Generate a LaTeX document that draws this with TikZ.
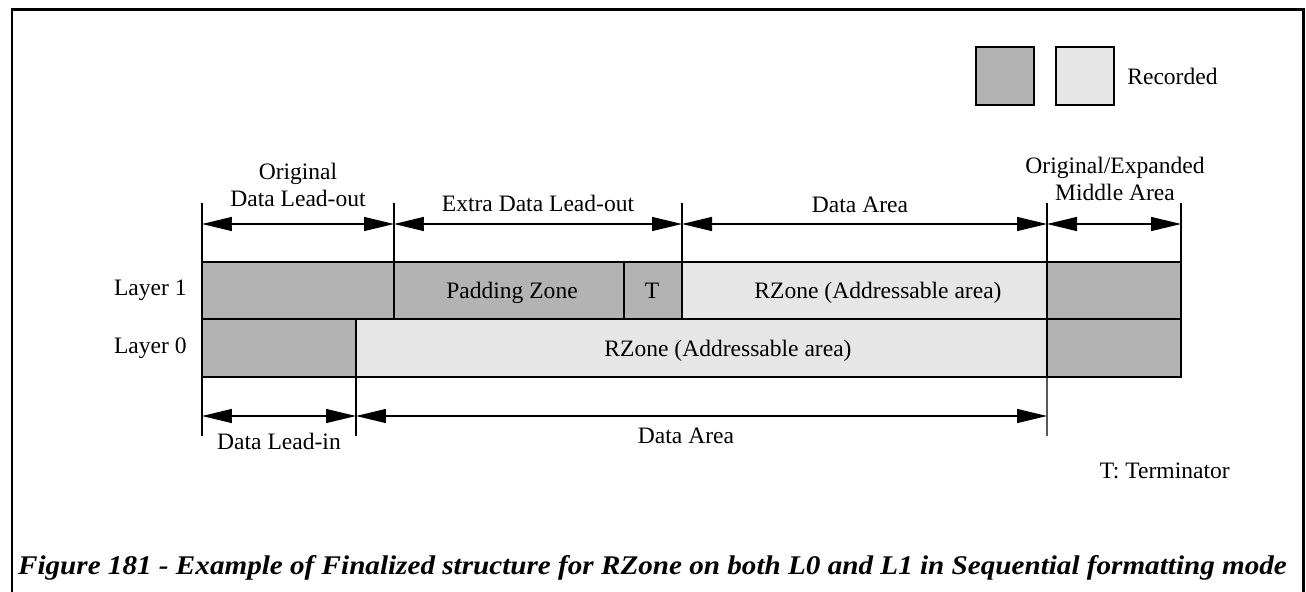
\documentclass[tikz,border=0pt]{standalone}
\usepackage{fontspec}
\setmainfont{Liberation Serif}
\usepackage{graphicx}
\usetikzlibrary{positioning,arrows.meta,fit}
\definecolor{recdark}{HTML}{B3B3B3}
\definecolor{reclight}{HTML}{E6E6E6}
\tikzset{
  zone/.style={draw, line width=1.1pt, inner sep=0pt, outer sep=0pt},
  dimline/.style={line width=0.75pt,
    {Triangle[length=0.6cm,width=0.28cm]}-{Triangle[length=0.6cm,width=0.28cm]}},
  tickline/.style={line width=0.75pt},
}
\begin{document}
\begin{tikzpicture}[x=0.02cm, y=-0.02cm, every node/.style={font=\fontsize{13.4}{15.4}\selectfont}]
  \useasboundingbox (0,0) rectangle (1306,592);
  \draw[line width=1.7pt] (12,592) |- (1303,9.5) -- (1303,592);
  % legend
  \node[zone, fill=recdark, fit={(976,47) (1034,105)}] (keyd) {};
  \node[zone, fill=reclight, fit={(1056,47) (1114,105)}] (keyl) {};
  \node[right=0.26cm of keyl, inner sep=0pt] (rec) {Recorded};
  % layer 1
  \node[zone, fill=recdark, fit={(202,262) (394,319)}] (olo) {};
  \node[zone, fill=recdark, fit={(394,262) (624,319)}] (pad) {};
  \node[zone, fill=recdark, fit={(624,262) (682,319)}] (term) {};
  \node[zone, fill=reclight, fit={(682,262) (1047,319)}] (rz1) {};
  \node[zone, fill=recdark, fit={(1047,262) (1181,319)}] (mid1) {};
  \node[anchor=base] (padtxt) at (512,298) {Padding Zone};
  \node[anchor=base] (termtxt) at (652,298) {T};
  \node[anchor=base] (rz1txt) at (878,298) {RZone (Addressable area)};
  % layer 0
  \node[zone, fill=recdark, fit={(202,319) (356,377)}] (lin) {};
  \node[zone, fill=reclight, fit={(356,319) (1047,377)}] (rz0) {};
  \node[zone, fill=recdark, fit={(1047,319) (1181,377)}] (mid0) {};
  \node[anchor=base] (rz0txt) at (728,356) {RZone (Addressable area)};
  \node[left=0.3cm of olo, inner sep=0pt] (lay1) {Layer 1};
  \node[left=0.3cm of lin, inner sep=0pt] (lay0) {Layer 0};
  % upper dimensions
  \foreach \n/\x in {0/202,1/394,2/682,3/1047,4/1181} {
    \coordinate (u\n) at (\x,203);
    \coordinate (a\n) at (\x,224);
  }
  \draw[tickline] (u0) -- (olo.north west);
  \draw[tickline] (u1) -- (pad.north west);
  \draw[tickline] (u2) -- (rz1.north west);
  \draw[tickline] (u3) -- (mid1.north west);
  \draw[tickline] (u4) -- (mid1.north east);
  \foreach \p/\q in {a0/a1,a1/a2,a2/a3,a3/a4}
    \draw[dimline] (\p) -- (\q);
  \node[align=center, anchor=south, inner sep=0pt] (odlo) at (298,207) {Original\\Data Lead-out};
  \node[anchor=base] (xdlo) at (538,211) {Extra Data Lead-out};
  \node[anchor=base] (da1) at (860,212) {Data Area};
  \node[align=center, anchor=south, inner sep=0pt] (oxma) at (1115,201) {Original/Expanded\\Middle Area};
  % lower dimensions
  \foreach \n/\x in {0/202,1/356,2/1047} {
    \coordinate (d\n) at (\x,436);
    \coordinate (b\n) at (\x,416);
  }
  \draw[tickline] (lin.south west) -- (d0);
  \draw[tickline] (lin.south east) -- (d1);
  \draw[tickline] (rz0.south east) -- (d2);
  \draw[dimline] (b0) -- (b1);
  \draw[dimline] (b1) -- (b2);
  \node[anchor=base] (dli) at (279,449) {Data Lead-in};
  \node[anchor=base] (da0) at (686,443) {Data Area};
  \node[anchor=base east, inner sep=0pt] (tnote) at (1230,478) {T: Terminator};
  % caption
  \node[anchor=base, inner sep=0pt] (cap) at (652.5,574)
    {\resizebox{25.38cm}{0.38cm}{\bfseries\itshape Figure 181 - Example of Finalized structure for RZone on both L0 and L1 in Sequential formatting mode}};
\end{tikzpicture}
\end{document}
